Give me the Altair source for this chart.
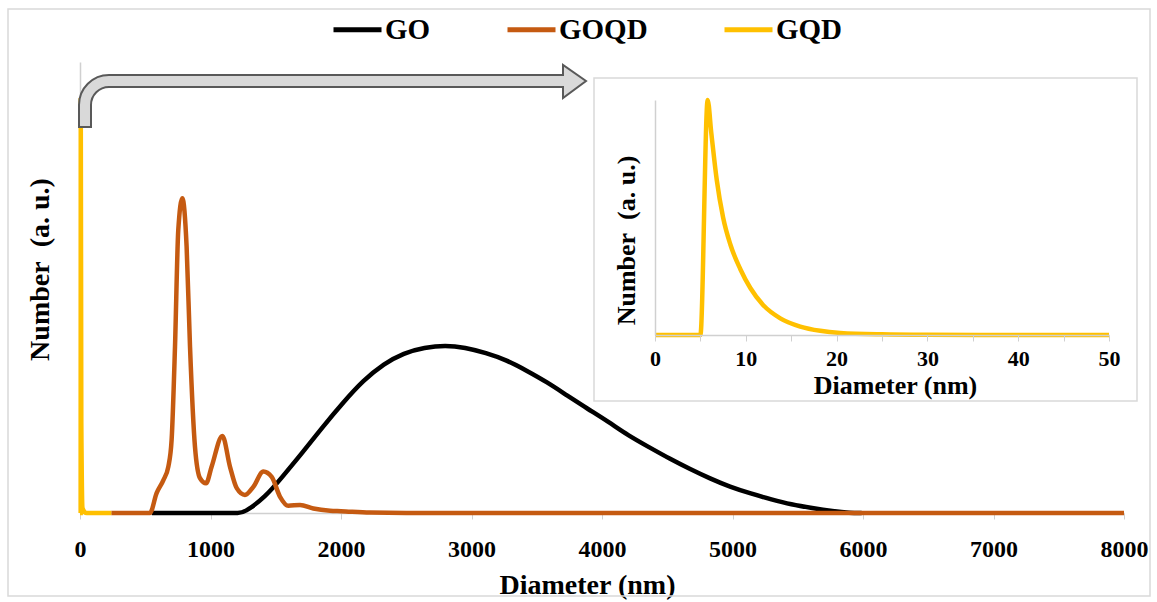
import altair as alt
import pandas as pd

# ---------------- data ----------------
series_names = ["GO", "GOQD", "GQD"]
series_colors = ["#000000", "#c55a11", "#ffc000"]

go_d = [550, 800, 1000, 1150, 1210, 1255, 1420, 1550, 1700, 1860, 2020, 2170, 2330, 2480,
        2640, 2800, 2950, 3110, 3270, 3420, 3580, 3730, 3890, 4050, 4200, 4360, 4520,
        4670, 4830, 4980, 5140, 5300, 5450, 5610, 5770, 5900, 5990]
go_n = [0, 0, 0, 0, 0, 0, 0.035, 0.080, 0.132, 0.191, 0.246, 0.294, 0.331, 0.355,
        0.367, 0.372, 0.367, 0.355, 0.339, 0.316, 0.290, 0.261, 0.231, 0.202, 0.172,
        0.146, 0.120, 0.098, 0.076, 0.058, 0.043, 0.030, 0.019, 0.011, 0.004, 0, 0]

goqd_d = [240, 536, 587, 639, 677, 702, 728, 753, 784, 817, 843, 881, 920, 966, 1009,
          1091, 1149, 1201, 1264, 1328, 1405, 1469, 1533, 1596, 1686, 1788, 1916, 2000,
          2222, 2500, 8000]
goqd_n = [0, 0, 0.044, 0.073, 0.103, 0.162, 0.369, 0.627, 0.698, 0.590, 0.369, 0.147,
          0.077, 0.066, 0.103, 0.171, 0.103, 0.055, 0.040, 0.058, 0.092, 0.080, 0.036,
          0.016, 0.018, 0.010, 0.005, 0.004, 0.001, 0, 0]

gqd_main_d = [0, 5, 5.8, 10, 20, 50, 240]
gqd_main_n = [0, 0, 0.92, 0.2, 0.01, 0, 0]

gqd_d = [0, 5.0, 5.8, 6.2, 6.8, 7.5, 8.3, 9.4, 10.5, 11.9, 13.8, 16.0, 18.2, 20.4,
         25, 30, 40, 50]
gqd_n = [0, 0, 1.0, 0.86, 0.66, 0.50, 0.385, 0.28, 0.20, 0.128, 0.071, 0.036,
         0.018, 0.009, 0.003, 0.001, 0, 0]

main_ticks = list(range(0, 8001, 1000))
inset_ticks = list(range(0, 51, 5))

FONT = "Liberation Serif"
AXIS_GRAY = "#d0d0d0"
LW = 4.5

main_df = pd.concat([
    pd.DataFrame({"d": go_d, "n": go_n, "series": "GO"}),
    pd.DataFrame({"d": goqd_d, "n": goqd_n, "series": "GOQD"}),
    pd.DataFrame({"d": gqd_main_d, "n": gqd_main_n, "series": "GQD"}),
], ignore_index=True)
inset_df = pd.DataFrame({"d_in": gqd_d, "n_in": gqd_n})
one = pd.DataFrame({"a": [0]})

x_main = alt.X("d:Q",
               scale=alt.Scale(domain=[0, 8000], nice=False, zero=False),
               axis=alt.Axis(values=main_ticks, format="d", grid=False, labelFlush=False,
                             domainColor=AXIS_GRAY, domainWidth=1.5,
                             tickColor=AXIS_GRAY, tickSize=6,
                             labelFont=FONT, labelFontSize=24, labelFontWeight="bold",
                             labelColor="black", labelPadding=18,
                             title="Diameter (nm)", titleFont=FONT, titleFontSize=28,
                             titleFontWeight="bold", titleColor="black",
                             titleX=507, titleY=72, titleBaseline="middle"))
y_main = alt.Y("n:Q",
               scale=alt.Scale(domain=[0, 1], nice=False),
               axis=alt.Axis(grid=False, ticks=False, labels=False,
                             domainColor=AXIS_GRAY, domainWidth=1.5,
                             title="Number\u00a0\u00a0(a. u.)", titleFont=FONT,
                             titleFontSize=28, titleFontWeight="bold", titleColor="black",
                             titleX=-40, titleY=207, titleBaseline="middle", titleAngle=270))
color_main = alt.Color("series:N",
                       scale=alt.Scale(domain=series_names, range=series_colors),
                       legend=alt.Legend(title=None, orient="none", direction="horizontal",
                                         legendX=251, legendY=-59,
                                         symbolType="stroke", symbolSize=2304,
                                         symbolStrokeWidth=5, labelFont=FONT,
                                         labelFontSize=29, labelFontWeight="bold",
                                         labelColor="black", labelOffset=1,
                                         columnPadding=66, padding=0))

# GO is a smooth broad curve; the GOQD/GQD peaks are sharp
go_layer = alt.Chart(main_df).transform_filter("datum.series == 'GO'").mark_line(
    strokeWidth=LW, interpolate="basis").encode(x=x_main, y=y_main, color=color_main)
rest_layer = alt.Chart(main_df).transform_filter("datum.series != 'GO'").mark_line(
    strokeWidth=LW, interpolate="monotone").encode(x=x_main, y=y_main, color=color_main)
main = alt.layer(go_layer, rest_layer)

# ---------------- inset ----------------
inset_box = alt.Chart(one).mark_rect(fill="white", stroke="#d9d9d9", strokeWidth=1.5).encode(
    x=alt.value(514), x2=alt.value(1057), y=alt.value(16), y2=alt.value(339)
)

inset = alt.Chart(inset_df).mark_line(strokeWidth=LW, interpolate="monotone",
                                      color="#ffc000").encode(
    x=alt.X("d_in:Q",
            scale=alt.Scale(domain=[0, 50], range=[575, 1029], nice=False),
            axis=alt.Axis(orient="bottom", offset=-178, zindex=1, values=inset_ticks,
                          labelExpr="datum.value % 10 === 0 ? datum.label : ''",
                          grid=False, labelFlush=False,
                          domainColor=AXIS_GRAY, domainWidth=1.5,
                          tickColor=AXIS_GRAY, tickSize=6,
                          labelFont=FONT, labelFontSize=22, labelFontWeight="bold",
                          labelColor="black", labelPadding=7,
                          title="Diameter (nm)", titleFont=FONT, titleFontSize=26,
                          titleFontWeight="bold", titleColor="black",
                          titleX=815, titleY=50, titleBaseline="middle")),
    y=alt.Y("n_in:Q",
            scale=alt.Scale(domain=[0, 1], range=[273, 38], nice=False),
            axis=alt.Axis(orient="left", offset=-575, zindex=1, grid=False,
                          ticks=False, labels=False, domainColor=AXIS_GRAY,
                          domainWidth=1.5,
                          title="Number\u00a0\u00a0(a. u.)", titleFont=FONT,
                          titleFontSize=26, titleFontWeight="bold", titleColor="black",
                          titleX=-29, titleY=178, titleBaseline="middle", titleAngle=270)),
)

# ---------------- bent arrow (annotation) ----------------
arrow_path = ("M -1 65 L -1 43 A 30 30 0 0 1 29 13 L 483 13 L 483 3 L 506 19 "
              "L 483 36 L 483 25 L 29 25 A 18 18 0 0 0 11 43 L 11 65 Z")
arrow = alt.Chart(one).mark_point(shape=arrow_path, size=4, filled=True,
                                  fill="#d9d9d9", stroke="#595959",
                                  strokeWidth=2, opacity=1).encode(
    x=alt.value(0), y=alt.value(0)
)

border = alt.Chart(one).mark_rect(fill="transparent", stroke="#d9d9d9",
                                  strokeWidth=1.5).encode(
    x=alt.value(-72), x2=alt.value(1070), y=alt.value(-53), y2=alt.value(534)
)

chart = alt.layer(main, inset_box, inset, arrow, border).resolve_scale(
    x="independent", y="independent"
).properties(
    width=1044, height=451,
    padding={"left": 80, "top": 62, "right": 33, "bottom": 89},
    autosize=alt.AutoSizeParams(type="none"),
    background="white",
).configure_view(stroke=None)

chart.save("out.html", embed_options={"renderer": "svg", "actions": False})
